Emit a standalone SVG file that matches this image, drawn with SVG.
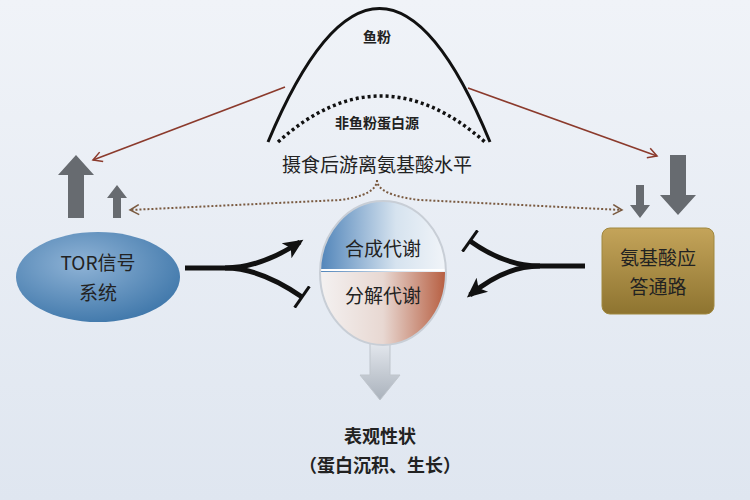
<svg xmlns="http://www.w3.org/2000/svg" width="750" height="500" viewBox="0 0 750 500">
<defs>
<linearGradient id="bg" x1="0" y1="0" x2="0" y2="1"><stop offset="0" stop-color="#f0f3f8"/><stop offset="1" stop-color="#dfe6f0"/></linearGradient>
<radialGradient id="tor" cx="0.4" cy="0.35" r="0.7"><stop offset="0" stop-color="#8fb3d6"/><stop offset="1" stop-color="#3f77aa"/></radialGradient>
<linearGradient id="aa" x1="0" y1="0" x2="0" y2="1"><stop offset="0" stop-color="#c4a45a"/><stop offset="1" stop-color="#8e7430"/></linearGradient>
<linearGradient id="top" x1="0" y1="0" x2="1" y2="0"><stop offset="0" stop-color="#4d82b8"/><stop offset="0.6" stop-color="#d6e3ef"/><stop offset="1" stop-color="#f2f5f9"/></linearGradient>
<linearGradient id="bot" x1="0" y1="0" x2="1" y2="0"><stop offset="0" stop-color="#f4f2f2"/><stop offset="0.5" stop-color="#e8d8d2"/><stop offset="1" stop-color="#b55a3c"/></linearGradient>
<linearGradient id="down" x1="0" y1="0" x2="0" y2="1"><stop offset="0" stop-color="#e4e8ee"/><stop offset="1" stop-color="#aab2bc"/></linearGradient>
<marker id="rd" markerUnits="userSpaceOnUse" markerWidth="12" markerHeight="12" refX="10" refY="6" orient="auto"><path d="M1,1 L10,6 L1,11" fill="none" stroke="#8b3a2c" stroke-width="1.5"/></marker>
<marker id="dt" markerUnits="userSpaceOnUse" markerWidth="12" markerHeight="12" refX="10" refY="6" orient="auto"><path d="M1,1 L10,6 L1,11" fill="none" stroke="#7a5a40" stroke-width="1.5"/></marker>
<marker id="ah" markerUnits="userSpaceOnUse" markerWidth="22" markerHeight="22" refX="16" refY="11" orient="auto"><path d="M0,2 L20,11 L0,20 L5,11 Z" fill="#111"/></marker>
<marker id="tb" markerUnits="userSpaceOnUse" markerWidth="6" markerHeight="26" refX="3" refY="13" orient="auto"><rect x="1.5" y="0" width="3" height="26" fill="#111"/></marker>
<style>
text{font-family:"Noto Sans CJK SC","Liberation Sans",sans-serif;fill:#222}
.blk{stroke:#111;stroke-width:5;fill:none}
.gar{fill:#676b70}
</style>
</defs>
<rect width="750" height="500" fill="url(#bg)"/>
<g id="connectors">
<path d="M268,142 Q380,-125 490,142" fill="none" stroke="#111" stroke-width="3"/>
<path d="M278,142 Q380,50 485,142" fill="none" stroke="#111" stroke-width="3.5" stroke-dasharray="3,3"/>
<path d="M285,87 L93,160" stroke="#8b3a2c" stroke-width="1.6" fill="none" marker-end="url(#rd)"/>
<path d="M468,88 L657,156" stroke="#8b3a2c" stroke-width="1.6" fill="none" marker-end="url(#rd)"/>
<path d="M377,180 Q377,195 340,200 L130,210" stroke="#7a5a40" stroke-width="2" stroke-dasharray="2,2" fill="none" marker-end="url(#dt)"/>
<path d="M377,180 Q377,195 420,200 L622,210" stroke="#7a5a40" stroke-width="2" stroke-dasharray="2,2" fill="none" marker-end="url(#dt)"/>
<path d="M185,268 L225,268 Q260,268 300,242" class="blk" marker-end="url(#ah)"/>
<path d="M225,268 Q260,268 302,297" class="blk" marker-end="url(#tb)"/>
<path d="M585,266 L540,266 Q505,266 470,241" class="blk" marker-end="url(#tb)"/>
<path d="M540,266 Q505,266 470,295" class="blk" marker-end="url(#ah)"/>
<path class="gar" d="M68,218 V175 H58 L76,155 L94,175 H84 V218 Z"/>
<path class="gar" d="M113,218 V198 H107 L117,185 L127,198 H121 V218 Z"/>
<path class="gar" d="M636,185 V205 H630 L640,218 L650,205 H644 V185 Z"/>
<path class="gar" d="M670,155 V195 H660 L678,215 L696,195 H686 V155 Z"/>
<path d="M370,342 V375 H360 L380,400 L400,375 H390 V342 Z" fill="url(#down)" stroke="#bfc5cc"/>
</g>
<g id="fishmeal"><text x="377" y="42" font-size="14" font-weight="bold" text-anchor="middle">鱼粉</text></g>
<g id="nonfish"><text x="377" y="128" font-size="14" font-weight="bold" text-anchor="middle">非鱼粉蛋白源</text></g>
<g id="level"><text x="377" y="172" font-size="19" text-anchor="middle">摄食后游离氨基酸水平</text></g>
<g id="tor-node"><ellipse cx="98" cy="277" rx="82" ry="45" fill="url(#tor)"/>
<text x="98" y="270" font-size="19" text-anchor="middle" fill="#111">TOR信号</text><text x="98" y="300" font-size="19" text-anchor="middle">系统</text></g>
<g id="metab-node"><clipPath id="c"><ellipse cx="383" cy="273" rx="63" ry="72"/></clipPath>
<g clip-path="url(#c)"><rect x="318" y="200" width="130" height="72" fill="url(#top)"/><rect x="318" y="272" width="130" height="75" fill="url(#bot)"/></g>
<line x1="320" y1="270" x2="446" y2="270" stroke="#fff" stroke-width="2"/>
<ellipse cx="383" cy="273" rx="63" ry="72" fill="none" stroke="#c8ced6" stroke-width="2"/>
<text x="383" y="256" font-size="19" text-anchor="middle">合成代谢</text><text x="383" y="303" font-size="19" text-anchor="middle">分解代谢</text></g>
<g id="aa-node"><rect x="602" y="228" width="112" height="86" rx="8" fill="url(#aa)" stroke="#a0883f"/>
<text x="658" y="265" font-size="19" text-anchor="middle">氨基酸应</text><text x="658" y="294" font-size="19" text-anchor="middle">答通路</text></g>
<g id="phenotype"><text x="380" y="443" font-size="18" font-weight="bold" text-anchor="middle">表观性状</text>
<text x="380" y="472" font-size="18" font-weight="bold" text-anchor="middle">（蛋白沉积、生长）</text></g>
</svg>
